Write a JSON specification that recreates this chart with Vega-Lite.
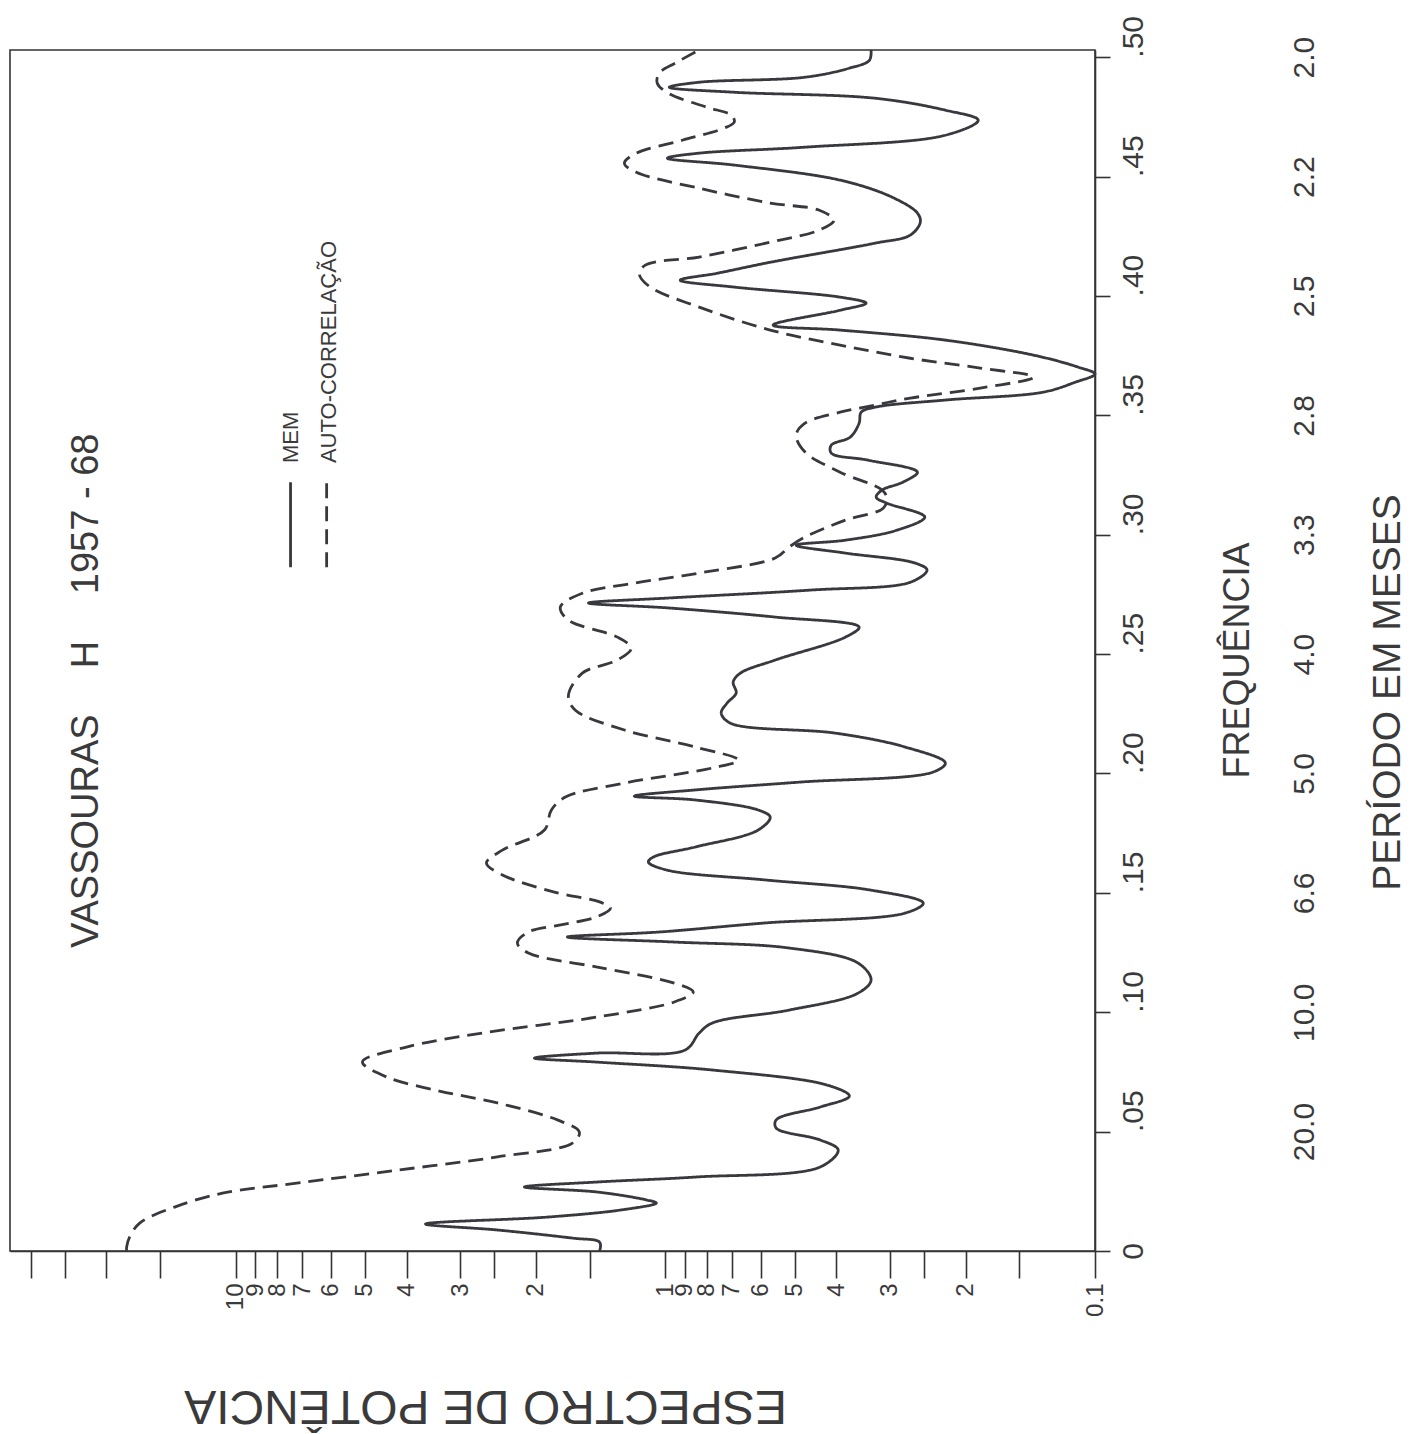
{
  "$schema": "https://vega.github.io/schema/vega-lite/v6.json",
  "width": 1085,
  "height": 1201,
  "autosize": {"type": "none"},
  "padding": {"left": 10, "top": 50, "right": 327, "bottom": 183},
  "background": "white",
  "config": {
    "font": "Liberation Sans",
    "view": {"stroke": "#333333", "strokeWidth": 1.6},
    "axis": {
      "grid": false,
      "domainColor": "#333333",
      "domainWidth": 1.6,
      "tickColor": "#333333",
      "tickWidth": 1.6,
      "labelColor": "#3a3a3a",
      "titleColor": "#3a3a3a",
      "titleFontWeight": "normal",
      "labelFont": "Liberation Sans",
      "titleFont": "Liberation Sans",
      "labelOverlap": false,
      "labelFlush": false,
      "labelBound": false
    }
  },
  "datasets": {
    "spectra": [
      {"s": "MEM", "f": 0, "p": 1.424},
      {"s": "MEM", "f": 0.0013, "p": 1.416},
      {"s": "MEM", "f": 0.0038, "p": 1.424},
      {"s": "MEM", "f": 0.0054, "p": 1.645},
      {"s": "MEM", "f": 0.0088, "p": 2.459},
      {"s": "MEM", "f": 0.0113, "p": 3.615},
      {"s": "MEM", "f": 0.0142, "p": 1.881},
      {"s": "MEM", "f": 0.0172, "p": 1.266},
      {"s": "MEM", "f": 0.0201, "p": 1.049},
      {"s": "MEM", "f": 0.0214, "p": 1.107},
      {"s": "MEM", "f": 0.0247, "p": 1.439},
      {"s": "MEM", "f": 0.0268, "p": 2.128},
      {"s": "MEM", "f": 0.0289, "p": 1.439},
      {"s": "MEM", "f": 0.031, "p": 0.847},
      {"s": "MEM", "f": 0.0352, "p": 0.436},
      {"s": "MEM", "f": 0.0423, "p": 0.396},
      {"s": "MEM", "f": 0.0465, "p": 0.436},
      {"s": "MEM", "f": 0.0515, "p": 0.552},
      {"s": "MEM", "f": 0.0549, "p": 0.552},
      {"s": "MEM", "f": 0.0603, "p": 0.436},
      {"s": "MEM", "f": 0.0649, "p": 0.373},
      {"s": "MEM", "f": 0.0695, "p": 0.42},
      {"s": "MEM", "f": 0.0758, "p": 0.777},
      {"s": "MEM", "f": 0.0791, "p": 1.439},
      {"s": "MEM", "f": 0.0808, "p": 2.017},
      {"s": "MEM", "f": 0.0829, "p": 1.439},
      {"s": "MEM", "f": 0.0842, "p": 0.899},
      {"s": "MEM", "f": 0.0913, "p": 0.834},
      {"s": "MEM", "f": 0.0955, "p": 0.777},
      {"s": "MEM", "f": 0.1009, "p": 0.515},
      {"s": "MEM", "f": 0.108, "p": 0.356},
      {"s": "MEM", "f": 0.1135, "p": 0.332},
      {"s": "MEM", "f": 0.1206, "p": 0.356},
      {"s": "MEM", "f": 0.1269, "p": 0.515},
      {"s": "MEM", "f": 0.1294, "p": 0.953},
      {"s": "MEM", "f": 0.1315, "p": 1.69},
      {"s": "MEM", "f": 0.1336, "p": 1.033},
      {"s": "MEM", "f": 0.1374, "p": 0.585},
      {"s": "MEM", "f": 0.1415, "p": 0.277},
      {"s": "MEM", "f": 0.1457, "p": 0.251},
      {"s": "MEM", "f": 0.1512, "p": 0.334},
      {"s": "MEM", "f": 0.1554, "p": 0.585},
      {"s": "MEM", "f": 0.1595, "p": 0.989},
      {"s": "MEM", "f": 0.1629, "p": 1.095},
      {"s": "MEM", "f": 0.165, "p": 1.066},
      {"s": "MEM", "f": 0.1692, "p": 0.852},
      {"s": "MEM", "f": 0.1763, "p": 0.608},
      {"s": "MEM", "f": 0.1817, "p": 0.57},
      {"s": "MEM", "f": 0.1847, "p": 0.608},
      {"s": "MEM", "f": 0.1889, "p": 0.852},
      {"s": "MEM", "f": 0.1905, "p": 1.181},
      {"s": "MEM", "f": 0.1931, "p": 0.852},
      {"s": "MEM", "f": 0.1964, "p": 0.485},
      {"s": "MEM", "f": 0.2006, "p": 0.238},
      {"s": "MEM", "f": 0.2044, "p": 0.223},
      {"s": "MEM", "f": 0.2111, "p": 0.277},
      {"s": "MEM", "f": 0.2169, "p": 0.402},
      {"s": "MEM", "f": 0.2211, "p": 0.706},
      {"s": "MEM", "f": 0.2253, "p": 0.741},
      {"s": "MEM", "f": 0.2295, "p": 0.718},
      {"s": "MEM", "f": 0.2337, "p": 0.684},
      {"s": "MEM", "f": 0.2383, "p": 0.695},
      {"s": "MEM", "f": 0.242, "p": 0.669},
      {"s": "MEM", "f": 0.2475, "p": 0.555},
      {"s": "MEM", "f": 0.2571, "p": 0.381},
      {"s": "MEM", "f": 0.2613, "p": 0.354},
      {"s": "MEM", "f": 0.2655, "p": 0.555},
      {"s": "MEM", "f": 0.2693, "p": 0.979},
      {"s": "MEM", "f": 0.2714, "p": 1.51},
      {"s": "MEM", "f": 0.2735, "p": 0.979},
      {"s": "MEM", "f": 0.2768, "p": 0.46},
      {"s": "MEM", "f": 0.2802, "p": 0.268},
      {"s": "MEM", "f": 0.2852, "p": 0.246},
      {"s": "MEM", "f": 0.2881, "p": 0.262},
      {"s": "MEM", "f": 0.2923, "p": 0.381},
      {"s": "MEM", "f": 0.2956, "p": 0.496},
      {"s": "MEM", "f": 0.2977, "p": 0.381},
      {"s": "MEM", "f": 0.3019, "p": 0.289},
      {"s": "MEM", "f": 0.3074, "p": 0.249},
      {"s": "MEM", "f": 0.3132, "p": 0.305},
      {"s": "MEM", "f": 0.3157, "p": 0.323},
      {"s": "MEM", "f": 0.3187, "p": 0.313},
      {"s": "MEM", "f": 0.322, "p": 0.28},
      {"s": "MEM", "f": 0.3262, "p": 0.259},
      {"s": "MEM", "f": 0.3312, "p": 0.337},
      {"s": "MEM", "f": 0.3342, "p": 0.411},
      {"s": "MEM", "f": 0.3375, "p": 0.411},
      {"s": "MEM", "f": 0.3409, "p": 0.371},
      {"s": "MEM", "f": 0.3467, "p": 0.354},
      {"s": "MEM", "f": 0.3513, "p": 0.35},
      {"s": "MEM", "f": 0.3534, "p": 0.325},
      {"s": "MEM", "f": 0.3564, "p": 0.223},
      {"s": "MEM", "f": 0.3597, "p": 0.132},
      {"s": "MEM", "f": 0.3639, "p": 0.111},
      {"s": "MEM", "f": 0.3673, "p": 0.1},
      {"s": "MEM", "f": 0.3702, "p": 0.1095},
      {"s": "MEM", "f": 0.3752, "p": 0.139},
      {"s": "MEM", "f": 0.3815, "p": 0.223},
      {"s": "MEM", "f": 0.3857, "p": 0.392},
      {"s": "MEM", "f": 0.3878, "p": 0.561},
      {"s": "MEM", "f": 0.394, "p": 0.392},
      {"s": "MEM", "f": 0.397, "p": 0.341},
      {"s": "MEM", "f": 0.3995, "p": 0.392},
      {"s": "MEM", "f": 0.4037, "p": 0.691},
      {"s": "MEM", "f": 0.4066, "p": 0.923},
      {"s": "MEM", "f": 0.4095, "p": 0.757},
      {"s": "MEM", "f": 0.4141, "p": 0.57},
      {"s": "MEM", "f": 0.4221, "p": 0.325},
      {"s": "MEM", "f": 0.4255, "p": 0.269},
      {"s": "MEM", "f": 0.4309, "p": 0.255},
      {"s": "MEM", "f": 0.4347, "p": 0.259},
      {"s": "MEM", "f": 0.4414, "p": 0.297},
      {"s": "MEM", "f": 0.4485, "p": 0.392},
      {"s": "MEM", "f": 0.4548, "p": 0.691},
      {"s": "MEM", "f": 0.4577, "p": 0.989},
      {"s": "MEM", "f": 0.4598, "p": 0.834},
      {"s": "MEM", "f": 0.4623, "p": 0.473},
      {"s": "MEM", "f": 0.4673, "p": 0.223},
      {"s": "MEM", "f": 0.4736, "p": 0.187},
      {"s": "MEM", "f": 0.4778, "p": 0.223},
      {"s": "MEM", "f": 0.4828, "p": 0.325},
      {"s": "MEM", "f": 0.4853, "p": 0.691},
      {"s": "MEM", "f": 0.4874, "p": 0.979},
      {"s": "MEM", "f": 0.4895, "p": 0.834},
      {"s": "MEM", "f": 0.4916, "p": 0.473},
      {"s": "MEM", "f": 0.4954, "p": 0.373},
      {"s": "MEM", "f": 0.4987, "p": 0.335},
      {"s": "MEM", "f": 0.503, "p": 0.332},
      {"s": "AUTO-CORRELAÇÃO", "f": 0, "p": 17.93},
      {"s": "AUTO-CORRELAÇÃO", "f": 0.0017, "p": 17.93},
      {"s": "AUTO-CORRELAÇÃO", "f": 0.0059, "p": 17.64},
      {"s": "AUTO-CORRELAÇÃO", "f": 0.0117, "p": 16.72},
      {"s": "AUTO-CORRELAÇÃO", "f": 0.0184, "p": 13.87},
      {"s": "AUTO-CORRELAÇÃO", "f": 0.0243, "p": 10.66},
      {"s": "AUTO-CORRELAÇÃO", "f": 0.0285, "p": 7.137},
      {"s": "AUTO-CORRELAÇÃO", "f": 0.0339, "p": 4.178},
      {"s": "AUTO-CORRELAÇÃO", "f": 0.0394, "p": 2.459},
      {"s": "AUTO-CORRELAÇÃO", "f": 0.0452, "p": 1.645},
      {"s": "AUTO-CORRELAÇÃO", "f": 0.0498, "p": 1.585},
      {"s": "AUTO-CORRELAÇÃO", "f": 0.0549, "p": 1.783},
      {"s": "AUTO-CORRELAÇÃO", "f": 0.062, "p": 2.459},
      {"s": "AUTO-CORRELAÇÃO", "f": 0.067, "p": 3.354},
      {"s": "AUTO-CORRELAÇÃO", "f": 0.0729, "p": 4.455},
      {"s": "AUTO-CORRELAÇÃO", "f": 0.0792, "p": 5.067},
      {"s": "AUTO-CORRELAÇÃO", "f": 0.0854, "p": 4.003},
      {"s": "AUTO-CORRELAÇÃO", "f": 0.0913, "p": 2.665},
      {"s": "AUTO-CORRELAÇÃO", "f": 0.098, "p": 1.439},
      {"s": "AUTO-CORRELAÇÃO", "f": 0.1043, "p": 0.953},
      {"s": "AUTO-CORRELAÇÃO", "f": 0.1085, "p": 0.861},
      {"s": "AUTO-CORRELAÇÃO", "f": 0.1122, "p": 0.953},
      {"s": "AUTO-CORRELAÇÃO", "f": 0.1189, "p": 1.439},
      {"s": "AUTO-CORRELAÇÃO", "f": 0.1248, "p": 2.083},
      {"s": "AUTO-CORRELAÇÃO", "f": 0.129, "p": 2.209},
      {"s": "AUTO-CORRELAÇÃO", "f": 0.1336, "p": 2.083},
      {"s": "AUTO-CORRELAÇÃO", "f": 0.1365, "p": 1.764},
      {"s": "AUTO-CORRELAÇÃO", "f": 0.1399, "p": 1.447},
      {"s": "AUTO-CORRELAÇÃO", "f": 0.1436, "p": 1.342},
      {"s": "AUTO-CORRELAÇÃO", "f": 0.1461, "p": 1.416},
      {"s": "AUTO-CORRELAÇÃO", "f": 0.1503, "p": 1.812},
      {"s": "AUTO-CORRELAÇÃO", "f": 0.1575, "p": 2.394},
      {"s": "AUTO-CORRELAÇÃO", "f": 0.1625, "p": 2.608},
      {"s": "AUTO-CORRELAÇÃO", "f": 0.1679, "p": 2.394},
      {"s": "AUTO-CORRELAÇÃO", "f": 0.1763, "p": 1.911},
      {"s": "AUTO-CORRELAÇÃO", "f": 0.1847, "p": 1.841},
      {"s": "AUTO-CORRELAÇÃO", "f": 0.1901, "p": 1.708},
      {"s": "AUTO-CORRELAÇÃO", "f": 0.196, "p": 1.245},
      {"s": "AUTO-CORRELAÇÃO", "f": 0.2023, "p": 0.777},
      {"s": "AUTO-CORRELAÇÃO", "f": 0.2056, "p": 0.676},
      {"s": "AUTO-CORRELAÇÃO", "f": 0.2111, "p": 0.852},
      {"s": "AUTO-CORRELAÇÃO", "f": 0.2182, "p": 1.245},
      {"s": "AUTO-CORRELAÇÃO", "f": 0.2265, "p": 1.619},
      {"s": "AUTO-CORRELAÇÃO", "f": 0.2324, "p": 1.681},
      {"s": "AUTO-CORRELAÇÃO", "f": 0.242, "p": 1.56},
      {"s": "AUTO-CORRELAÇÃO", "f": 0.2475, "p": 1.293},
      {"s": "AUTO-CORRELAÇÃO", "f": 0.2525, "p": 1.2},
      {"s": "AUTO-CORRELAÇÃO", "f": 0.2571, "p": 1.293},
      {"s": "AUTO-CORRELAÇÃO", "f": 0.2642, "p": 1.681},
      {"s": "AUTO-CORRELAÇÃO", "f": 0.2697, "p": 1.755},
      {"s": "AUTO-CORRELAÇÃO", "f": 0.2755, "p": 1.56},
      {"s": "AUTO-CORRELAÇÃO", "f": 0.2797, "p": 1.181},
      {"s": "AUTO-CORRELAÇÃO", "f": 0.2843, "p": 0.812},
      {"s": "AUTO-CORRELAÇÃO", "f": 0.2902, "p": 0.555},
      {"s": "AUTO-CORRELAÇÃO", "f": 0.2948, "p": 0.515},
      {"s": "AUTO-CORRELAÇÃO", "f": 0.2986, "p": 0.478},
      {"s": "AUTO-CORRELAÇÃO", "f": 0.3061, "p": 0.381},
      {"s": "AUTO-CORRELAÇÃO", "f": 0.3111, "p": 0.311},
      {"s": "AUTO-CORRELAÇÃO", "f": 0.3153, "p": 0.305},
      {"s": "AUTO-CORRELAÇÃO", "f": 0.3187, "p": 0.313},
      {"s": "AUTO-CORRELAÇÃO", "f": 0.3262, "p": 0.392},
      {"s": "AUTO-CORRELAÇÃO", "f": 0.3346, "p": 0.473},
      {"s": "AUTO-CORRELAÇÃO", "f": 0.3417, "p": 0.496},
      {"s": "AUTO-CORRELAÇÃO", "f": 0.3467, "p": 0.473},
      {"s": "AUTO-CORRELAÇÃO", "f": 0.3513, "p": 0.392},
      {"s": "AUTO-CORRELAÇÃO", "f": 0.3543, "p": 0.325},
      {"s": "AUTO-CORRELAÇÃO", "f": 0.3572, "p": 0.269},
      {"s": "AUTO-CORRELAÇÃO", "f": 0.3614, "p": 0.185},
      {"s": "AUTO-CORRELAÇÃO", "f": 0.366, "p": 0.139},
      {"s": "AUTO-CORRELAÇÃO", "f": 0.3698, "p": 0.185},
      {"s": "AUTO-CORRELAÇÃO", "f": 0.3739, "p": 0.269},
      {"s": "AUTO-CORRELAÇÃO", "f": 0.3794, "p": 0.392},
      {"s": "AUTO-CORRELAÇÃO", "f": 0.3857, "p": 0.57},
      {"s": "AUTO-CORRELAÇÃO", "f": 0.3953, "p": 0.834},
      {"s": "AUTO-CORRELAÇÃO", "f": 0.4037, "p": 1.084},
      {"s": "AUTO-CORRELAÇÃO", "f": 0.4091, "p": 1.149},
      {"s": "AUTO-CORRELAÇÃO", "f": 0.4129, "p": 1.113},
      {"s": "AUTO-CORRELAÇÃO", "f": 0.4163, "p": 0.834},
      {"s": "AUTO-CORRELAÇÃO", "f": 0.4225, "p": 0.57},
      {"s": "AUTO-CORRELAÇÃO", "f": 0.4276, "p": 0.438},
      {"s": "AUTO-CORRELAÇÃO", "f": 0.4317, "p": 0.405},
      {"s": "AUTO-CORRELAÇÃO", "f": 0.4359, "p": 0.438},
      {"s": "AUTO-CORRELAÇÃO", "f": 0.4389, "p": 0.57},
      {"s": "AUTO-CORRELAÇÃO", "f": 0.4451, "p": 0.834},
      {"s": "AUTO-CORRELAÇÃO", "f": 0.4518, "p": 1.168},
      {"s": "AUTO-CORRELAÇÃO", "f": 0.4556, "p": 1.245},
      {"s": "AUTO-CORRELAÇÃO", "f": 0.4598, "p": 1.168},
      {"s": "AUTO-CORRELAÇÃO", "f": 0.4652, "p": 0.913},
      {"s": "AUTO-CORRELAÇÃO", "f": 0.4703, "p": 0.729},
      {"s": "AUTO-CORRELAÇÃO", "f": 0.4728, "p": 0.691},
      {"s": "AUTO-CORRELAÇÃO", "f": 0.4757, "p": 0.702},
      {"s": "AUTO-CORRELAÇÃO", "f": 0.4791, "p": 0.803},
      {"s": "AUTO-CORRELAÇÃO", "f": 0.4849, "p": 0.984},
      {"s": "AUTO-CORRELAÇÃO", "f": 0.4891, "p": 1.044},
      {"s": "AUTO-CORRELAÇÃO", "f": 0.4933, "p": 1.033},
      {"s": "AUTO-CORRELAÇÃO", "f": 0.4975, "p": 0.948},
      {"s": "AUTO-CORRELAÇÃO", "f": 0.503, "p": 0.834}
    ],
    "legend_lines": [
      {"s": "MEM", "p": 7.45, "f1": 0.2864, "f2": 0.322},
      {"s": "AUTO-CORRELAÇÃO", "p": 6.14, "f1": 0.2864, "f2": 0.322}
    ],
    "legend_text": [
      {"t": "MEM", "p": 7.45, "f": 0.33},
      {"t": "AUTO-CORRELAÇÃO", "p": 6.05, "f": 0.33}
    ],
    "title_text": [
      {"t": "VASSOURAS", "p": 22.2, "f": 0.1269},
      {"t": "H", "p": 22.2, "f": 0.2441},
      {"t": "1957 - 68", "p": 22.2, "f": 0.2751}
    ]
  },
  "encoding": {
    "x": {
      "field": "p", "type": "quantitative",
      "scale": {"type": "log", "domain": [0.1, 33.5], "reverse": true, "nice": false},
      "axis": {
        "orient": "bottom",
        "values": [0.1, 0.15, 0.2, 0.25, 0.3, 0.4, 0.5, 0.6, 0.7, 0.8, 0.9, 1, 1.5, 2, 2.5, 3, 4, 5, 6, 7, 8, 9, 10, 15, 20, 25, 30],
        "labelExpr": "datum.value == 0.1 ? '0.1' : ((datum.value == 0.15 || datum.value == 0.25 || datum.value == 1.5 || datum.value == 2.5 || datum.value > 12) ? '' : (datum.value < 1 ? format(datum.value * 10, 'd') : format(datum.value, 'd')))",
        "labelAngle": 270,
        "labelAlign": "right",
        "labelBaseline": "middle",
        "tickSize": 27,
        "labelPadding": 5,
        "labelFontSize": 24,
        "title": "ESPECTRO   DE   POTÊNCIA",
        "titleAngle": 180,
        "titleX": 475,
        "titleY": 153,
        "titleAlign": "center",
        "titleBaseline": "middle",
        "titleFontSize": 48
      }
    }
  },
  "layer": [
    {
      "data": {"name": "spectra"},
      "mark": {"type": "line", "interpolate": "catmull-rom", "color": "#38383f", "strokeWidth": 2.8},
      "encoding": {
        "y": {
          "field": "f", "type": "quantitative",
          "scale": {"domain": [0, 0.503], "nice": false, "zero": false},
          "axis": {
            "orient": "right",
            "values": [0, 0.05, 0.1, 0.15, 0.2, 0.25, 0.3, 0.35, 0.4, 0.45, 0.5],
            "labelExpr": "datum.value == 0 ? '0' : replace(format(datum.value, '.2f'), '0.', '.')",
            "labelAngle": 270,
            "labelAlign": {"condition": {"test": "datum.value == 0", "value": "center"}, "value": "left"},
            "labelBaseline": "top",
            "tickSize": 15,
            "labelPadding": 8,
            "labelFontSize": 30,
            "title": "FREQUÊNCIA",
            "titleAngle": 270,
            "titleX": 142,
            "titleY": 610,
            "titleAlign": "center",
            "titleBaseline": "middle",
            "titleFontSize": 36
          }
        },
        "order": {"field": "f", "type": "quantitative"},
        "strokeDash": {
          "field": "s", "type": "nominal",
          "scale": {"domain": ["MEM", "AUTO-CORRELAÇÃO"], "range": [[1, 0], [15, 8]]},
          "legend": null
        }
      }
    },
    {
      "data": {"name": "legend_lines"},
      "mark": {"type": "rule", "color": "#38383f", "strokeWidth": 2.8},
      "encoding": {
        "y": {
          "field": "f1", "type": "quantitative",
          "scale": {"domain": [0, 0.503], "nice": false, "zero": false},
          "axis": {
            "orient": "right",
            "values": [0.05, 0.1, 0.15, 0.2, 0.25, 0.3, 0.35, 0.4, 0.45, 0.5],
            "labelExpr": "['20.0', '10.0', '6.6', '5.0', '4.0', '3.3', '2.8', '2.5', '2.2', '2.0'][round(datum.value * 20) - 1]",
            "ticks": false,
            "tickSize": 0,
            "domain": false,
            "labelAngle": 270,
            "labelAlign": "center",
            "labelBaseline": "top",
            "labelPadding": 194,
            "labelFontSize": 30,
            "title": "PERÍODO EM MESES",
            "titleAngle": 270,
            "titleX": 292,
            "titleY": 642,
            "titleAlign": "center",
            "titleBaseline": "middle",
            "titleFontSize": 39
          }
        },
        "y2": {"field": "f2"},
        "strokeDash": {
          "field": "s", "type": "nominal",
          "scale": {"domain": ["MEM", "AUTO-CORRELAÇÃO"], "range": [[1, 0], [15, 8]]},
          "legend": null
        }
      }
    },
    {
      "data": {"name": "legend_text"},
      "mark": {"type": "text", "angle": 270, "align": "left", "baseline": "middle", "fontSize": 22, "color": "#3a3a3a", "font": "Liberation Sans"},
      "encoding": {
        "y": {"field": "f", "type": "quantitative", "scale": {"domain": [0, 0.503], "nice": false, "zero": false}, "axis": null},
        "text": {"field": "t", "type": "nominal"}
      }
    },
    {
      "data": {"name": "title_text"},
      "mark": {"type": "text", "angle": 270, "align": "left", "baseline": "middle", "fontSize": 38, "color": "#3a3a3a", "font": "Liberation Sans"},
      "encoding": {
        "y": {"field": "f", "type": "quantitative", "scale": {"domain": [0, 0.503], "nice": false, "zero": false}, "axis": null},
        "text": {"field": "t", "type": "nominal"}
      }
    }
  ],
  "resolve": {"axis": {"y": "independent"}}
}
